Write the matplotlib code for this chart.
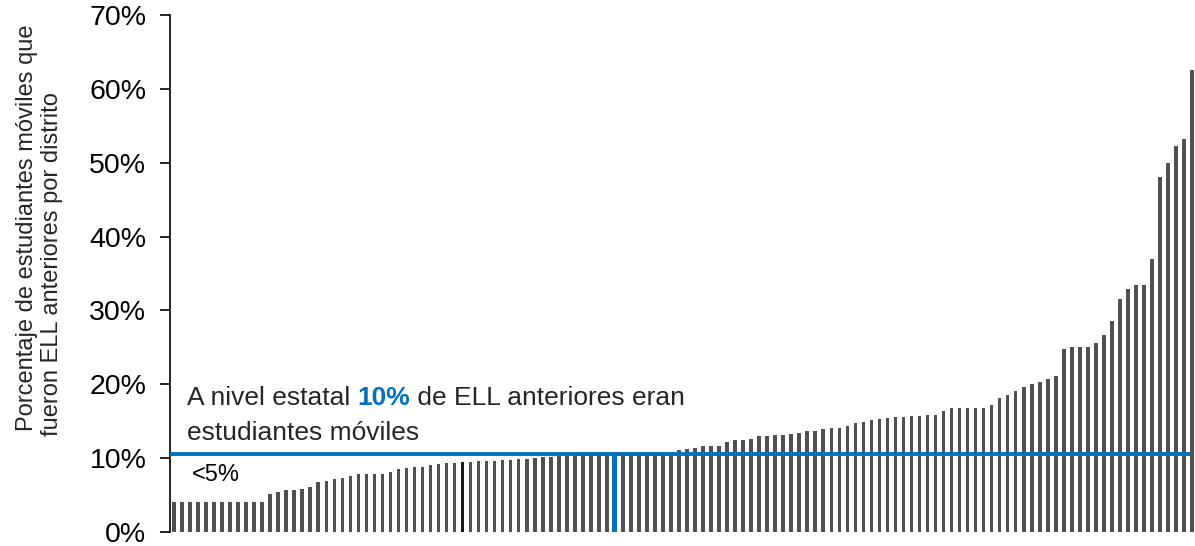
import matplotlib.pyplot as plt
from matplotlib.ticker import FuncFormatter

# ---------------------------------------------------------------------------
# Datos: porcentaje de estudiantes moviles que fueron ELL anteriores,
# un valor por distrito, ordenados de menor a mayor
# ---------------------------------------------------------------------------

grupo_bajo = [4.1] * 12 + [5.1, 5.4, 5.7, 5.75, 5.85, 6.05]
grupo_2 = [6.77, 6.95, 7.2, 7.35, 7.58, 7.8, 7.8, 7.8, 7.8, 8.08, 8.5, 8.67,
           8.75, 8.8, 9.07, 9.2, 9.3, 9.38, 9.5]
grupo_3 = [9.52, 9.55, 9.65, 9.65, 9.7, 9.7, 9.84, 9.93, 9.96, 10.1, 10.1,
           10.25, 10.28, 10.3, 10.38, 10.4, 10.4, 10.4, 10.6]
grupo_4 = [10.6, 10.6, 10.65, 10.7, 10.7, 10.75, 10.8, 11.1, 11.24, 11.33,
           11.6, 11.65, 11.65, 12.23, 12.45, 12.45, 12.6, 12.95]
grupo_5 = [12.95, 13.1, 13.13, 13.3, 13.45, 13.63, 13.67, 13.95, 14.04, 14.08,
           14.4, 14.7, 14.9, 15.16, 15.34, 15.48, 15.57, 15.57]
grupo_6 = [15.66, 15.68, 15.8, 15.8, 16.43, 16.75, 16.75, 16.75, 16.75, 16.75,
           17.15, 18.14, 18.6, 19.1, 19.68, 20.08, 20.3, 20.67, 21.12]
grupo_alto = [24.8, 25.08, 25.08, 25.08, 25.6, 26.7, 28.6, 31.6, 32.9, 33.4,
              33.4, 37.0, 48.0, 50.0, 52.2, 53.25, 62.55]

valores = grupo_bajo + grupo_2 + grupo_3 + grupo_4 + grupo_5 + grupo_6 + grupo_alto

nivel_estatal = 10.6
ticks_y = [0, 10, 20, 30, 40, 50, 60, 70]

IDX_OSCURO = 36   # distrito resaltado en negro
IDX_AZUL = 55     # distrito resaltado en azul

GRIS = "#505050"
AZUL = "#0070C0"
TEXTO = "#262626"

plt.rcParams['font.family'] = ['Liberation Sans', 'DejaVu Sans']

# ---------------------------------------------------------------------------
# Figura
# ---------------------------------------------------------------------------

fig = plt.figure(figsize=(11.95, 5.46), dpi=100)
ax = fig.add_axes([170 / 1195, 14 / 546, 1025 / 1195, 517 / 546])

colores = [GRIS] * len(valores)
anchos = [0.45] * len(valores)
colores[IDX_OSCURO] = "#1a1a1a"
colores[IDX_AZUL] = AZUL
anchos[IDX_AZUL] = 0.65

ax.bar(range(len(valores)), valores, width=anchos, color=colores, zorder=2)
ax.plot([-0.5, len(valores) - 1.2], [nivel_estatal, nivel_estatal],
        color=AZUL, linewidth=2.8, zorder=3, solid_capstyle="butt")

ax.set_xlim(-0.5, len(valores) - 0.63)
ax.set_ylim(0, 70)
ax.set_xticks([])
ax.set_yticks(ticks_y)
ax.yaxis.set_major_formatter(FuncFormatter(lambda v, p: f"{v:.0f}%"))
ax.tick_params(axis="y", direction="out", length=7, width=1.2, pad=10,
               labelsize=20.5, color="black", labelcolor="black")
for lado in ("top", "right", "bottom"):
    ax.spines[lado].set_visible(False)
ax.spines["left"].set_linewidth(1.2)

# Etiqueta del eje y (dos lineas)
fig.text(27 / 1195, 1 - 228 / 546, "Porcentaje de estudiantes móviles que",
         rotation=90, ha="center", va="center", fontsize=17, color=TEXTO)
fig.text(52 / 1195, 1 - 264 / 546, "fueron ELL anteriores por distrito",
         rotation=90, ha="center", va="center", fontsize=17, color=TEXTO)

# Anotacion con "10%" en azul y negrita
fig.canvas.draw()
render = fig.canvas.get_renderer()
x0, y0 = 187 / 1195, 1 - 405 / 546
partes = [("A nivel estatal ", TEXTO, "normal"),
          ("10%", AZUL, "bold"),
          (" de ELL anteriores eran", TEXTO, "normal")]
x = x0
for texto, color, peso in partes:
    t = fig.text(x, y0, texto, fontsize=19, color=color, fontweight=peso,
                 ha="left", va="baseline")
    caja = t.get_window_extent(render)
    x = caja.x1 / fig.bbox.width
fig.text(x0, 1 - 440 / 546, "estudiantes móviles", fontsize=19, color=TEXTO,
         ha="left", va="baseline")

fig.text(192 / 1195, 1 - 481 / 546, "<5%", fontsize=17, color="black",
         ha="left", va="baseline")

fig.savefig("out.png", dpi=100)
